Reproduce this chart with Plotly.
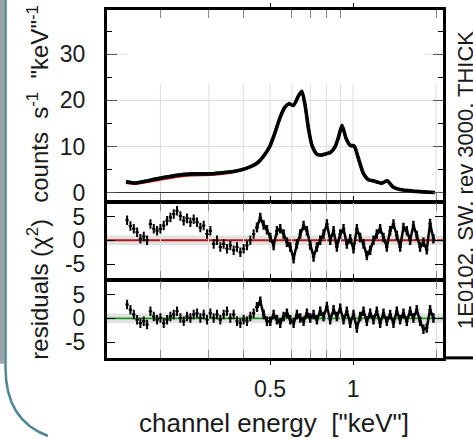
import plotly.graph_objects as go

W, H = 473, 439

# ---------------- data ----------------
spec_energy = [0.150, 0.162, 0.176, 0.197, 0.230, 0.261, 0.300, 0.330, 0.368, 0.412,
               0.448, 0.473, 0.500, 0.522, 0.544, 0.567, 0.585, 0.607, 0.634, 0.652,
               0.670, 0.689, 0.709, 0.739, 0.770, 0.803, 0.830, 0.861, 0.885, 0.912,
               0.943, 0.975, 1.010, 1.045, 1.090, 1.136, 1.185, 1.270, 1.330, 1.400,
               1.480, 1.650, 1.800, 1.980]
spec_counts = [2.4, 2.1, 2.5, 3.1, 3.8, 4.1, 4.1, 4.3, 4.6, 5.35,
               6.4, 7.9, 10.2, 13.2, 16.4, 18.6, 19.3, 18.9, 21.0, 22.0,
               18.9, 13.9, 10.3, 8.35, 8.2, 8.5, 8.8, 10.0, 12.0, 14.6,
               11.8, 10.3, 10.1, 7.5, 4.2, 2.85, 2.6, 2.1, 2.6, 1.2,
               0.7, 0.36, 0.2, 0.07]
model_red = [2.2, 2.0, 2.3, 2.8, 3.5, 3.8, 3.9, 4.1, 4.5, 5.3,
             6.3, 7.8, 10.0, 13.0, 16.2, 18.5, 19.2, 18.9, 20.9, 21.9,
             18.8, 13.8, 10.2, 8.3, 8.1, 8.4, 8.7, 9.9, 11.9, 14.5,
             11.7, 10.2, 10.0, 7.4, 4.1, 2.8, 2.5, 2.0, 2.5, 1.2,
             0.7, 0.36, 0.2, 0.07]
model_green = [2.5, 2.2, 2.6, 3.2, 3.9, 4.2, 4.2, 4.4, 4.7, 5.4,
               6.5, 8.0, 10.3, 13.3, 16.5, 18.7, 19.3, 18.9, 21.0, 22.0,
               19.0, 14.0, 10.4, 8.4, 8.2, 8.5, 8.8, 10.0, 12.0, 14.6,
               11.8, 10.3, 10.1, 7.5, 4.2, 2.85, 2.6, 2.1, 2.6, 1.2,
               0.7, 0.36, 0.2, 0.07]

res_energy = [0.1514, 0.1557, 0.1601, 0.1646, 0.1692, 0.1740, 0.1789, 0.1840, 0.1892, 0.1945,
              0.2000, 0.2056, 0.2114, 0.2174, 0.2235, 0.2298, 0.2363, 0.2430, 0.2498, 0.2569,
              0.2641, 0.2716, 0.2792, 0.2871, 0.2952, 0.3035, 0.3121, 0.3209, 0.3299, 0.3392,
              0.3488, 0.3586, 0.3688, 0.3792, 0.3899, 0.4009, 0.4122, 0.4238, 0.4358, 0.4481,
              0.4607, 0.4737, 0.4871, 0.5008, 0.5149, 0.5295, 0.5444, 0.5597, 0.5755, 0.5917,
              0.6084, 0.6256, 0.6432, 0.6614, 0.6800, 0.6992, 0.7189, 0.7392, 0.7600, 0.7815,
              0.8035, 0.8262, 0.8495, 0.8734, 0.8981, 0.9234, 0.9494, 0.9762, 1.0038, 1.0321,
              1.0612, 1.0911, 1.1219, 1.1535, 1.1861, 1.2195, 1.2539, 1.2893, 1.3257, 1.3630,
              1.4015, 1.4410, 1.4817, 1.5235, 1.5664, 1.6106, 1.6560, 1.7027, 1.7508, 1.8002,
              1.8509, 1.9032, 1.9568]
res_red = [4.2, 3.0, 2.4, 1.7, 0.3, 0.8, 0.0, 3.4, 2.4, 2.0,
           2.4, 3.1, 4.1, 4.8, 5.5, 6.2, 5.1, 4.1, 4.6, 3.8,
           4.4, 3.8, 2.7, 3.1, 1.3, 2.0, -0.8, 0.0, -1.4, -0.8,
           -1.8, -1.1, -2.1, -1.4, -2.5, -1.8, -1.1, 0.0, 1.3, 2.7,
           4.8, 3.2, 2.2, 0.6, -1.1, 2.0, 2.4, 1.3, -0.4, -1.4,
           -3.9, -0.8, 1.3, 3.1, 2.0, -1.0, -3.5, -1.4, 0.0, 1.3,
           3.4, 0.0, 2.0, -1.4, 1.3, 2.4, -0.8, 0.3, -1.8, 2.4,
           0.6, -0.8, -3.2, -2.1, 0.0, 1.3, 2.4, 0.6, -1.4, 2.0,
           3.4, 1.0, -1.4, 2.7, 2.0, 0.0, 3.1, 1.0, -1.4, -0.4,
           -2.0, 3.5, 0.3]
res_green = [2.9, 1.8, 0.8, -0.3, -1.0, -0.6, -1.3, 1.5, 0.4, -0.3,
             0.1, -1.0, -0.3, 0.4, 0.8, 1.5, 0.1, -0.6, 0.4, 0.1,
             0.8, 1.1, 0.1, 0.8, -0.3, 1.1, 0.1, 0.8, -0.3, 0.8,
             1.5, 0.1, 0.8, -0.6, -1.0, -0.3, -0.6, 0.4, 1.1, 2.4,
             3.6, 0.8, -0.6, -0.6, 0.8, -0.3, -1.0, 0.4, 1.1, -0.3,
             -1.0, 0.8, 0.1, -0.6, 1.1, 0.1, 0.8, -0.3, 1.5, 0.4,
             2.5, -0.3, 1.8, 0.4, 2.1, -0.3, 1.5, -1.0, 0.8, -2.0,
             0.4, 1.5, -0.6, 1.1, -0.3, 1.5, -1.0, 1.1, -0.6, 0.8,
             -1.0, 1.5, -0.3, 1.1, -0.6, 1.5, 0.1, 1.8, -0.6, -2.3,
             -2.0, 1.8, 0.1]

x_major = [0.5, 1]
x_major_text = ["0.5", "1"]
x_minor = [0.2, 0.3, 0.4, 0.6, 0.7, 0.8, 0.9, 2]
top_ticks = [0, 10, 20, 30]
top_minor = [5, 15, 25, 35]
res_ticks = [-5, 0, 5]

# ---------------- layout helpers ----------------
def px(x):
    return x / W

def py(y):
    return 1 - y / H

FONT = "Liberation Sans, Arial, sans-serif"
XRANGE = [-0.8928, 0.3263]
SPLIT = 40  # sparse crosses below this channel, dense connected band above

fig = go.Figure()

# top panel: models then data
fig.add_trace(go.Scatter(x=spec_energy, y=model_red, mode="lines", line=dict(color="#c0201a", width=2.5, shape="spline", smoothing=0.6), xaxis="x", yaxis="y"))
fig.add_trace(go.Scatter(x=spec_energy, y=model_green, mode="lines", line=dict(color="#1a9a1a", width=2.5, shape="spline", smoothing=0.6), xaxis="x", yaxis="y"))
fig.add_trace(go.Scatter(x=spec_energy, y=spec_counts, mode="lines", line=dict(color="black", width=3.6, shape="spline", smoothing=0.6), xaxis="x", yaxis="y"))

err_y = dict(type="constant", value=1.0, color="black", thickness=2.0, width=0)
err_x = dict(type="percent", value=1.4, color="black", thickness=2.0, width=0)
for res, xa, ya in ((res_red, "x2", "y2"), (res_green, "x3", "y3")):
    fig.add_trace(go.Scatter(x=res_energy[:SPLIT], y=res[:SPLIT], mode="markers",
                             marker=dict(size=2, color="black"),
                             error_y=err_y, error_x=err_x, xaxis=xa, yaxis=ya))
    fig.add_trace(go.Scatter(x=res_energy[SPLIT - 1:], y=res[SPLIT - 1:], mode="lines",
                             line=dict(color="black", width=2.5),
                             error_y=dict(err_y, thickness=2.4), error_x=err_x, xaxis=xa, yaxis=ya))

xdom = [px(107), px(443)]
def xaxis(anchor, labels, grid):
    return dict(type="log", range=XRANGE, domain=xdom, anchor=anchor,
                tickmode="array", tickvals=x_major, ticktext=x_major_text,
                showticklabels=labels, ticks="outside", ticklen=4, tickwidth=1.2, tickcolor="black",
                showline=True, linewidth=3, linecolor="black", mirror="ticks",
                showgrid=grid, gridcolor="#dcdcdc", gridwidth=1, zeroline=False,
                minor=dict(tickmode="array", tickvals=x_minor, ticks="inside", ticklen=8,
                           tickcolor="#888888", tickwidth=1, showgrid=grid, gridcolor="#dcdcdc", gridwidth=1),
                tickfont=dict(family=FONT, size=23, color="#1a1a1a"), ticklabelstandoff=5)

fig.update_layout(
    width=W, height=H, margin=dict(l=0, r=0, t=0, b=0),
    paper_bgcolor="white", plot_bgcolor="white", showlegend=False,
    xaxis=xaxis("y", False, False),
    xaxis2=xaxis("y2", False, True),
    xaxis3=xaxis("y3", True, True),
    yaxis=dict(domain=[py(203), py(10)], range=[-1.7, 39.6], anchor="x",
               tickmode="array", tickvals=top_ticks, ticks="inside", ticklen=10, tickcolor="#555555",
               showline=True, linewidth=3, linecolor="black", mirror="ticks",
               showgrid=False,
               zeroline=True, zerolinecolor="#333333", zerolinewidth=1,
               minor=dict(tickmode="array", tickvals=top_minor, ticks="inside", ticklen=5,
                          tickcolor="black", tickwidth=1, showgrid=False),
               tickfont=dict(family=FONT, size=23, color="#1a1a1a"), ticklabelstandoff=14),
    yaxis2=dict(domain=[py(282), py(205)], range=[-8.1, 7.9], anchor="x2",
                tickmode="array", tickvals=res_ticks, ticktext=["-5", "0", "5"],
                ticks="inside", ticklen=8, tickcolor="black",
                showline=True, linewidth=3, linecolor="black", mirror="ticks",
                showgrid=False, zeroline=False,
                tickfont=dict(family=FONT, size=23, color="#1a1a1a"), ticklabelstandoff=14),
    yaxis3=dict(domain=[py(362), py(284)], range=[-8.3, 7.9], anchor="x3",
                tickmode="array", tickvals=res_ticks, ticktext=["-5", "0", "5"],
                ticks="inside", ticklen=8, tickcolor="black",
                showline=True, linewidth=3, linecolor="black", mirror="ticks",
                showgrid=False, zeroline=False,
                tickfont=dict(family=FONT, size=23, color="#1a1a1a"), ticklabelstandoff=14),
)

GRID = dict(color="#dcdcdc", width=1)
KEY_BOTTOM, KEY_LEFT, KEY_RIGHT = 0.611, 0.06, 0.946  # blank key box in the top panel (domain fractions)
shapes = []
# top-panel grid, interrupted by the (empty) key box
for v in x_minor + x_major:
    shapes.append(dict(type="line", xref="x", yref="y domain", x0=v, x1=v, y0=0, y1=KEY_BOTTOM,
                       line=GRID, layer="below"))
for v in top_ticks[1:]:
    if v < 25:
        shapes.append(dict(type="line", xref="x domain", yref="y", x0=0, x1=1, y0=v, y1=v,
                           line=GRID, layer="below"))
    else:
        for a, b in ((0, KEY_LEFT), (KEY_RIGHT, 1)):
            shapes.append(dict(type="line", xref="x domain", yref="y", x0=a, x1=b, y0=v, y1=v,
                               line=GRID, layer="below"))
# residual bands and zero lines
for xr, yr, col in (("x2 domain", "y2", "#b01818"), ("x3 domain", "y3", "#1c951c")):
    shapes.append(dict(type="rect", xref=xr, yref=yr, x0=0, x1=1, y0=-1, y1=1,
                       fillcolor="#e2e2e2", line=dict(width=0), layer="below"))
    shapes.append(dict(type="line", xref=xr, yref=yr, x0=0, x1=1, y0=0, y1=0,
                       line=dict(color=col, width=1.8), layer="below"))
# bottom frame line continuing to the right edge
shapes.append(dict(type="line", xref="paper", yref="paper", x0=px(443), x1=1, y0=py(362), y1=py(362),
                   line=dict(color="black", width=3)))
# decorative rounded frame on the left
shapes.append(dict(type="rect", xref="paper", yref="paper", x0=0, x1=px(4), y0=py(368), y1=1,
                   fillcolor="#9aa4a8", line=dict(width=0)))
path = (f"M {px(5.5)},{py(-2)} L {px(5.5)},{py(372)} "
        f"C {px(5.5)},{py(405)} {px(18)},{py(430)} {px(48)},{py(441)}")
shapes.append(dict(type="path", xref="paper", yref="paper", path=path,
                   line=dict(color="#4f8796", width=2.5)))
fig.update_layout(shapes=shapes)

NB = "\u00a0"
fig.update_layout(annotations=[
    dict(text=f"counts{NB}{NB}s<sup>-1</sup>{NB}{NB}\"keV\"<sup>-1</sup>", x=px(38), y=py(105),
         xref="paper", yref="paper", textangle=-90, showarrow=False,
         font=dict(family=FONT, size=24, color="#1a1a1a"), xanchor="center", yanchor="middle"),
    dict(text="residuals (χ<sup>2</sup>)", x=px(38), y=py(293),
         xref="paper", yref="paper", textangle=-90, showarrow=False,
         font=dict(family=FONT, size=24, color="#1a1a1a"), xanchor="center", yanchor="middle"),
    dict(text=f"channel energy{NB}{NB}[\"keV\"]", x=px(274), y=py(428),
         xref="paper", yref="paper", showarrow=False,
         font=dict(family=FONT, size=26, color="#1a1a1a"), xanchor="center", yanchor="middle"),
    dict(text="1E0102, SW, rev 3000, THICK", x=px(466), y=py(182),
         xref="paper", yref="paper", textangle=-90, showarrow=False,
         font=dict(family=FONT, size=22, color="#1a1a1a"), xanchor="center", yanchor="middle"),
])

fig.write_html("out.html", config={"displayModeBar": False},
               post_script="document.body.style.margin='0px';document.body.style.overflow='hidden';")
